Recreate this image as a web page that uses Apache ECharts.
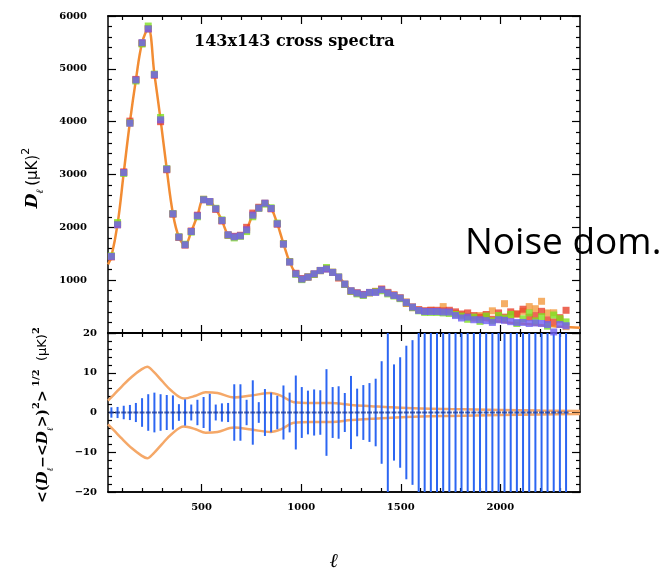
<!DOCTYPE html>
<html><head><meta charset="utf-8">
<script src="https://cdn.jsdelivr.net/npm/echarts@6/dist/echarts.min.js"></script>
<style>html,body{margin:0;padding:0;background:#fff}#c{width:664px;height:570px}</style>
</head><body><div id="c"></div><script>
// multipole bin centres
const ell = [47,78,109,140,170,201,232,263,294,325,356,386,417,448,479,510,541,571,602,633,
  664,695,726,757,787,818,849,880,911,942,973,1003,1034,1065,1096,1127,1158,1188,1219,1250,
  1281,1312,1343,1374,1404,1435,1466,1497,1528,1559,1590,1620,1651,1682,1713,1744,1775,1805,1836,1867,
  1898,1929,1960,1991,2021,2052,2083,2114,2145,2176,2207,2237,2268,2299,2330];
// D_ell (muK^2) of the four 143x143 cross spectra
const dPurple = [1449,2048,3037,3971,4790,5496,5755,4890,4034,3101,2256,1815,1670,1921,2218,2521,2489,2351,2130,1859,
  1821,1840,1953,2231,2364,2458,2356,2067,1683,1343,1121,1021,1059,1121,1184,1210,1146,1059,926,800,
  756,724,768,768,819,756,711,662,579,492,427,408,408,408,397,397,330,284,300,251,
  251,234,200,251,240,215,200,200,180,190,180,160,20,160,138];
const dRed = [1440,2060,3050,4010,4800,5480,5760,4880,4000,3090,2250,1810,1665,1930,2230,2530,2480,2340,2120,1850,
  1830,1850,2000,2270,2380,2450,2350,2060,1690,1350,1130,1030,1060,1110,1180,1220,1150,1040,920,790,
  760,730,760,780,830,760,720,660,560,480,440,420,430,430,420,430,400,360,380,330,
  300,350,260,380,300,400,360,450,300,330,410,250,210,290,430];
const dGreen = [1460,2090,3020,3980,4770,5470,5810,4900,4080,3110,2260,1820,1680,1910,2200,2530,2480,2360,2140,1850,
  1800,1830,1920,2200,2360,2440,2370,2080,1690,1350,1110,1010,1060,1110,1180,1240,1150,1060,920,790,
  740,710,760,780,800,740,700,650,570,480,420,390,390,390,380,370,350,320,260,300,
  220,320,230,330,280,350,180,270,380,230,310,130,340,270,210];
const dOrange = [1449,2048,3037,3971,4790,5496,5755,4890,4034,3101,2256,1815,1670,1921,2218,2521,2489,2351,2130,1859,
  1821,1840,1953,2231,2364,2458,2356,2067,1683,1343,1121,1021,1059,1121,1184,1210,1146,1059,926,800,
  756,724,768,790,830,770,720,670,590,500,440,415,430,410,500,400,370,340,310,280,
  330,300,420,290,555,330,360,410,500,460,600,380,383,250,120];
// best-fit model curve
const modelEll = [30].concat(ell, [2400]);
const modelD = [1300,1449,2060,3030,3990,4790,5490,5760,4900,4040,3100,2260,1815,1675,1920,2220,2520,2490,2350,2130,1860,
  1820,1840,1960,2240,2370,2455,2360,2070,1690,1345,1120,1025,1060,1120,1180,1215,1150,1060,930,805,
  760,730,760,775,815,760,710,660,580,495,430,410,405,400,395,390,360,330,300,280,
  260,245,230,218,206,195,185,175,165,155,145,135,128,120,114,100];
// residual scatter: half-length of each bar (muK^2)
const sigma = [1.3,1.4,1.7,1.9,2.4,3.6,4.6,5.0,4.6,4.4,4.3,2.1,3.3,2.0,3.2,3.9,4.7,2.0,2.3,2.4,
  7.1,7.1,3.2,8.1,2.6,5.9,5.0,4.2,6.8,5.0,9.3,6.4,5.5,5.8,5.6,10.9,6.4,6.6,4.9,9.2,
  6.0,6.9,7.4,8.5,12.9,28,12.1,13.9,16.8,18.2,24,27,29,31,33,36,38,41,44,47,
  50,54,58,62,66,71,76,81,87,93,99,106,113,121,130];
// expected envelope
const envEll = [30,60,100,150,200,227,260,300,350,411,470,520,580,663,750,847,900,963,1050,1150,1250,1350,1450,1600,1750,2000,2200,2400];
const envVal = [3.0,4.5,6.6,9.0,10.9,11.5,10.2,8.0,5.4,3.5,4.2,5.1,4.9,3.8,4.3,4.9,4.2,2.6,2.4,2.4,1.9,1.6,1.3,1.0,0.85,0.65,0.5,0.4];
// tick values
const xMajor = [500,1000,1500,2000];
const xMinor = [100,200,300,400,600,700,800,900,1100,1200,1300,1400,1600,1700,1800,1900,2100,2200,2300];

const pairs = (xs, ys) => xs.map((x, i) => [x, ys[i]]);
const LF = {fontFamily:'DejaVu Serif', fontWeight:'bold', fontSize:10, color:'#000'};
const TL = {color:'#000', width:1.2};
const AL = {show:true, onZero:false, lineStyle:{color:'#000', width:1.5}};
function xAx(g, pos, vals, len, lab) {
  return {type:'value', gridIndex:g, position:pos, min:30, max:2400, axisLine:AL, splitLine:{show:false},
    axisTick:{show:true, inside:true, length:len, customValues:vals, lineStyle:TL},
    axisLabel:Object.assign({show:lab, customValues:vals, margin:10, formatter: v => String(v)}, LF)};
}
function yAx(g, pos, mn, mx, iv, lab, margin, sml) {
  return {type:'value', gridIndex:g, position:pos, min:mn, max:mx, interval:iv, axisLine:AL, splitLine:{show:false},
    axisTick:{show:true, inside:true, length:8, lineStyle:TL},
    minorTick:{show:true, splitNumber:5, length:4, lineStyle:TL}, minorSplitLine:{show:false},
    axisLabel:Object.assign({show:lab, margin:margin, showMinLabel: sml, formatter: v => String(v).replace('-', '\u2212')}, LF)};
}
const graphics = [
  {type:'text', left:194, top:34, style:{text:'143x143 cross spectra', font:'bold 16px "DejaVu Serif"', fill:'#000'}},
  {type:'text', left:465, top:225, style:{text:'Noise dom.', font:'37px "Open Sans"', fill:'#000'}},
  {type:'text', x:33, y:178, rotation:Math.PI/2,
    style:{text:'{d|D}{s|\u2113} {n|(\u03bcK)}{p|2}', align:'center', verticalAlign:'middle',
      rich:{
        d:{fontFamily:'DejaVu Serif', fontStyle:'italic', fontWeight:'bold', fontSize:17, lineHeight:24, verticalAlign:'middle', fill:'#000'},
        s:{fontFamily:'DejaVu Serif', fontStyle:'italic', fontWeight:'bold', fontSize:10, lineHeight:10, verticalAlign:'bottom', fill:'#000'},
        n:{fontFamily:'DejaVu Sans', fontSize:15, lineHeight:24, verticalAlign:'middle', fill:'#000'},
        p:{fontFamily:'DejaVu Sans', fontSize:11, lineHeight:11, verticalAlign:'top', fill:'#000'}
      }}},
  {type:'text', x:43, y:415, rotation:Math.PI/2,
    style:{text:'{n|<(}{d|D}{s|\u2113}{n|\u2212<}{d|D}{s|\u2113}{n|>)}{p|2}{n|>}{p| 1/2}{m|  (\u03bcK)}{p|2}', align:'center', verticalAlign:'middle',
      rich:{
        n:{fontFamily:'DejaVu Serif', fontWeight:'bold', fontSize:14, lineHeight:24, verticalAlign:'middle', fill:'#000'},
        d:{fontFamily:'DejaVu Serif', fontStyle:'italic', fontWeight:'bold', fontSize:15, lineHeight:24, verticalAlign:'middle', fill:'#000'},
        s:{fontFamily:'DejaVu Serif', fontStyle:'italic', fontWeight:'bold', fontSize:9, lineHeight:9, verticalAlign:'bottom', fill:'#000'},
        m:{fontFamily:'DejaVu Sans', fontSize:13, lineHeight:24, verticalAlign:'middle', fill:'#000'},
        p:{fontFamily:'DejaVu Serif', fontWeight:'bold', fontSize:10, lineHeight:10, verticalAlign:'top', fill:'#000'}
      }}},
  {type:'text', x:334, y:562, style:{text:'\u2113', font:'italic bold 20px "DejaVu Serif"', fill:'#000', align:'center', verticalAlign:'middle'}}
];
const series = [
  {type:'line', xAxisIndex:0, yAxisIndex:0, data:pairs(modelEll, modelD), smooth:0.4, showSymbol:false, lineStyle:{color:'#f28c33', width:2.5}, z:2},
  {type:'scatter', xAxisIndex:0, yAxisIndex:0, data:pairs(ell, dPurple), symbol:'rect', symbolSize:7, itemStyle:{color:'#6f5ff3'}, z:6},
  {type:'custom', xAxisIndex:4, yAxisIndex:2, clip:true, z:3, data:pairs(ell, sigma),
    renderItem:(params, api) => { const x = api.value(0), v = Math.min(api.value(1), 20);
      const a = api.coord([x, v]), b = api.coord([x, -v]);
      return {type:'line', shape:{x1:a[0], y1:a[1], x2:b[0], y2:b[1]}, style:{stroke:'#2c66f2', lineWidth:2}}; }},
  {type:'scatter', xAxisIndex:4, yAxisIndex:2, data:ell.map(l => [l, 0]), symbol:'rect', symbolSize:[5,2], itemStyle:{color:'#1d3a96'}, z:4},
  {type:'scatter', xAxisIndex:0, yAxisIndex:0, data:pairs(ell, dOrange), symbol:'rect', symbolSize:7, itemStyle:{color:'#f39a3e'}, z:3},
  {type:'scatter', xAxisIndex:0, yAxisIndex:0, data:pairs(ell, dRed), symbol:'rect', symbolSize:7, itemStyle:{color:'#e8412c'}, z:4},
  {type:'scatter', xAxisIndex:0, yAxisIndex:0, data:pairs(ell, dGreen), symbol:'rect', symbolSize:7, itemStyle:{color:'#7ee020'}, z:5},
  {type:'line', xAxisIndex:4, yAxisIndex:2, data:pairs(envEll, envVal), smooth:0.35, showSymbol:false, lineStyle:{color:'#f5a868', width:2.5}, z:2},
  {type:'line', xAxisIndex:4, yAxisIndex:2, data:pairs(envEll, envVal.map(v => -v)), smooth:0.35, showSymbol:false, lineStyle:{color:'#f5a868', width:2.5}, z:2}
];
const option = {animation:false, backgroundColor:'#fff',
  grid:[{left:108, top:16, width:472, height:317},{left:108, top:333, width:472, height:159}],
  xAxis:[xAx(0,'bottom',xMajor,8,false), xAx(0,'bottom',xMinor,4,false), xAx(0,'top',xMajor,8,false), xAx(0,'top',xMinor,4,false),
    xAx(1,'bottom',xMajor,8,true), xAx(1,'bottom',xMinor,4,false), xAx(1,'top',xMajor,8,false), xAx(1,'top',xMinor,4,false)],
  yAxis:[yAx(0,'left',0,6000,1000,true,21,false), yAx(0,'right',0,6000,1000,false,8,true),
    yAx(1,'left',-20,20,10,true,11,true), yAx(1,'right',-20,20,10,false,8,true)],
  graphic:graphics,
  series:series};
const chart = echarts.init(document.getElementById('c'));
chart.setOption(option);
</script></body></html>
